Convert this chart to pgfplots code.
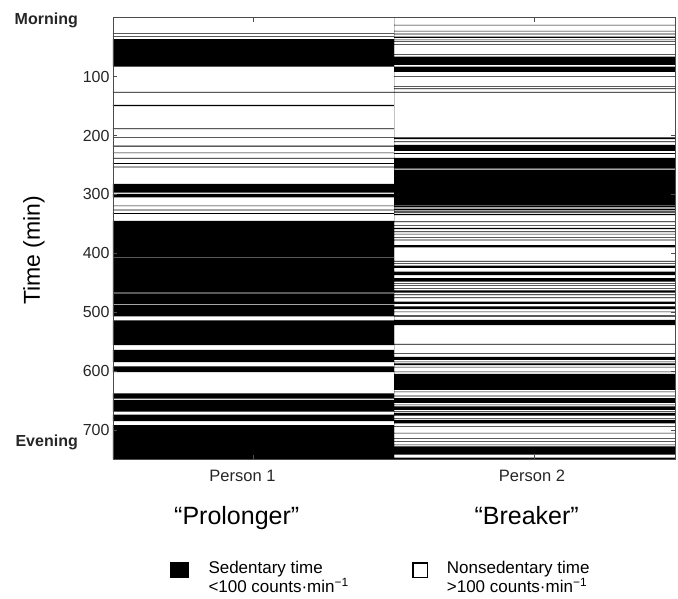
\documentclass[border=0pt]{standalone}
\usepackage{pgfplots}
\pgfplotsset{compat=1.18}
\usepackage{fontspec}
\setmainfont{Liberation Sans}

% sedentary bouts, one row per change point: bar length (0 = off), minute
\pgfplotstableread{
x t
0 0
-1 26
0 27
-1 31
0 32
-1 36
0 83
-1 126
0 127
-1 148
0 150
-1 188
0 189
-1 203
0 204
-1 217
0 219
-1 229
0 230
-1 238
0 239
-1 247
0 248
-1 253
0 254
-1 282
0 297
-1 299
0 305
-1 319
0 320
-1 326
0 327
-1 332
0 333
-1 345
0 406
-1 407
0 467
-1 468
0 487
-1 488
0 507
-1 514
0 556
-1 564
0 585
-1 592
0 602
-1 638
0 647
-1 649
0 669
-1 674
0 685
-1 692
0 750
}\personone

\pgfplotstableread{
x t
0 0
1 12
0 13
1 22
0 23
1 27
0 28
1 32
0 34
1 37
0 38
1 40
0 41
1 45
0 46
1 62
0 63
1 66
0 80
1 83
0 92
1 99
0 100
1 116
0 117
1 120
0 121
1 126
0 127
1 203
0 206
1 210
0 211
1 216
0 226
1 230
0 231
1 238
0 256
1 258
0 318
1 319
0 322
1 324
0 327
1 329
0 331
1 333
0 335
1 346
0 347
1 352
0 353
1 357
0 359
1 363
0 364
1 367
0 368
1 373
0 374
1 377
0 378
1 386
0 390
1 413
0 414
1 417
0 418
1 421
0 425
1 431
0 437
1 442
0 448
1 451
0 452
1 454
0 455
1 459
0 460
1 463
0 467
1 470
0 471
1 475
0 476
1 482
0 486
1 490
0 495
1 499
0 500
1 505
0 506
1 507
0 508
1 513
0 522
1 554
0 555
1 570
0 571
1 576
0 581
1 584
0 585
1 587
0 590
1 593
0 594
1 601
0 602
1 605
0 632
1 635
0 636
1 642
0 643
1 646
0 654
1 657
0 658
1 660
0 666
1 668
0 669
1 671
0 676
1 680
0 681
1 683
0 689
1 694
0 695
1 705
0 706
1 714
0 715
1 719
0 720
1 725
0 726
1 728
0 742
1 747
0 750
}\persontwo

\begin{document}
\begin{tikzpicture}
\path[use as bounding box] (-113pt,-138.7pt) rectangle (565pt,459.3pt);
\begin{axis}[
  at={(0pt,0pt)}, anchor=south west,
  scale only axis,
  width=562pt, height=441.5pt,
  xmin=-1, xmax=1,
  ymin=0, ymax=750,
  y dir=reverse,
  axis on top,
  xtick={-0.5,0.5},
  xticklabels={},
  ytick={100,200,...,700},
  tick align=inside,
  major tick length=4pt,
  axis line style={draw=black!70, line width=0.8pt},
  tick style={draw=black!70, line width=0.6pt},
  /pgf/number format/assume math mode=true,
  yticklabel style={font=\fontsize{16}{18}\selectfont, text=black!85},
]
\addplot[xbar interval, fill=black, draw=none] table[x=x, y=t] {\personone};
\addplot[xbar interval, fill=black, draw=none] table[x=x, y=t] {\persontwo};
\end{axis}

\node[anchor=base east, inner sep=0pt, font=\bfseries\fontsize{16}{18}\selectfont, text=black!85] at (-35pt,434.3pt) {Morning};
\node[anchor=base east, inner sep=0pt, font=\bfseries\fontsize{16}{18}\selectfont, text=black!85] at (-35pt,12.6pt) {Evening};
\node[rotate=90, inner sep=0pt, font=\fontsize{23}{26}\selectfont] at (-79pt,209pt) {Time (min)};

\node[anchor=base, inner sep=0pt, font=\fontsize{16.5}{18}\selectfont, text=black!85] at (129.5pt,-22.4pt) {Person 1};
\node[anchor=base, inner sep=0pt, font=\fontsize{16.5}{18}\selectfont, text=black!85] at (419pt,-22.4pt) {Person 2};
\node[anchor=base, inner sep=0pt, font=\fontsize{25}{28}\selectfont] at (123.7pt,-64.7pt) {“Prolonger”};
\node[anchor=base, inner sep=0pt, font=\fontsize{25}{28}\selectfont] at (413.7pt,-64.7pt) {“Breaker”};

\fill[black] (57pt,-102.4pt) rectangle (76pt,-119pt);
\draw[line width=1.8pt] (299.6pt,-103.3pt) rectangle (314.4pt,-118.1pt);
\node[anchor=base west, inner sep=0pt, font=\fontsize{17}{19}\selectfont] at (95.3pt,-114pt) {Sedentary time};
\node[anchor=base west, inner sep=0pt, font=\fontsize{17}{19}\selectfont] at (95.3pt,-133.4pt) {<100 counts·min\textsuperscript{−1}};
\node[anchor=base west, inner sep=0pt, font=\fontsize{17}{19}\selectfont] at (333.7pt,-114pt) {Nonsedentary time};
\node[anchor=base west, inner sep=0pt, font=\fontsize{17}{19}\selectfont] at (333.7pt,-133.4pt) {>100 counts·min\textsuperscript{−1}};
\end{tikzpicture}
\end{document}
